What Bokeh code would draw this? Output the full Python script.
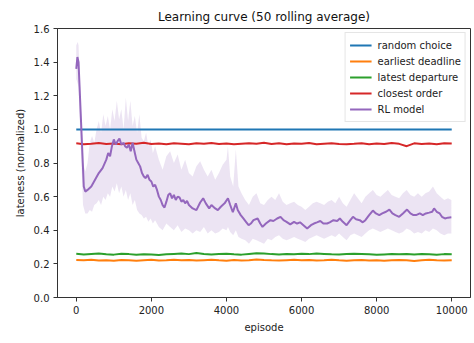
from bokeh.plotting import figure
from bokeh.embed import file_html
from bokeh.resources import INLINE
from bokeh.models import Range1d, FixedTicker, PrintfTickFormatter, Legend, LegendItem

FONT = "DejaVu Sans"

# ---------------- data ----------------
baseline_episodes = list(range(0, 10001, 200))
random_choice = [1.0] * len(baseline_episodes)
closest_order = [0.918, 0.912, 0.915, 0.919, 0.913, 0.916, 0.911, 0.917, 0.914, 0.920,
                 0.913, 0.916, 0.912, 0.918, 0.915, 0.911, 0.917, 0.914, 0.919, 0.913,
                 0.916, 0.912, 0.915, 0.918, 0.914, 0.920, 0.913, 0.917, 0.911, 0.916,
                 0.914, 0.919, 0.912, 0.915, 0.917, 0.913, 0.912, 0.914, 0.918, 0.912,
                 0.916, 0.913, 0.919, 0.914, 0.900, 0.917, 0.913, 0.916, 0.912, 0.918, 0.916]
latest_departure = [0.260, 0.256, 0.259, 0.262, 0.257, 0.255, 0.260, 0.258, 0.254, 0.257,
                    0.256, 0.253, 0.257, 0.259, 0.261, 0.258, 0.264, 0.259, 0.256, 0.258,
                    0.260, 0.257, 0.255, 0.259, 0.263, 0.261, 0.258, 0.256, 0.259, 0.257,
                    0.260, 0.258, 0.261, 0.259, 0.257, 0.256, 0.258, 0.260, 0.259, 0.257,
                    0.254, 0.256, 0.258, 0.257, 0.259, 0.256, 0.258, 0.257, 0.255, 0.258, 0.257]
earliest_deadline = [0.223, 0.221, 0.224, 0.220, 0.222, 0.218, 0.223, 0.221, 0.219, 0.222,
                     0.224, 0.220, 0.222, 0.225, 0.221, 0.223, 0.220, 0.222, 0.224, 0.221,
                     0.219, 0.223, 0.220, 0.222, 0.226, 0.223, 0.221, 0.220, 0.222, 0.224,
                     0.221, 0.223, 0.220, 0.222, 0.225, 0.221, 0.219, 0.222, 0.223, 0.220,
                     0.222, 0.218, 0.221, 0.223, 0.222, 0.217, 0.222, 0.224, 0.221, 0.220, 0.222]

rl_episodes = [0, 30, 60, 200, 240, 300, 400, 500, 600, 700, 800, 850, 900, 950, 1000, 1050,
               1100, 1150, 1200, 1260, 1300, 1350, 1400, 1450, 1500, 1560, 1600, 1650, 1700,
               1750, 1800, 1850, 1900, 1950, 2000, 2050, 2100, 2150, 2200, 2250, 2300, 2350,
               2400, 2450, 2500, 2550, 2600, 2650, 2700, 2750, 2800, 2850, 2900, 2950, 3000,
               3100, 3200, 3300, 3380, 3450, 3540, 3600, 3700, 3770, 3850, 3950, 4040, 4100,
               4170, 4250, 4300, 4380, 4450, 4520, 4590, 4650, 4720, 4830, 4900, 4960, 5050,
               5170, 5250, 5350, 5440, 5520, 5600, 5700, 5800, 5880, 5960, 6050, 6150, 6250,
               6330, 6410, 6500, 6580, 6680, 6750, 6850, 6950, 7020, 7100, 7200, 7300, 7370,
               7450, 7550, 7630, 7700, 7800, 7900, 7980, 8070, 8150, 8250, 8340, 8420, 8500,
               8600, 8700, 8810, 8900, 8980, 9050, 9150, 9230, 9310, 9400, 9480, 9530, 9600,
               9680, 9740, 9820, 9900, 9990]
rl_model = [1.36, 1.43, 1.40, 0.66, 0.63, 0.64, 0.66, 0.70, 0.74, 0.77, 0.82, 0.86, 0.84, 0.90,
            0.94, 0.91, 0.93, 0.945, 0.91, 0.92, 0.90, 0.89, 0.91, 0.87, 0.92, 0.86, 0.82,
            0.80, 0.78, 0.74, 0.72, 0.71, 0.73, 0.70, 0.69, 0.66, 0.67, 0.64, 0.60, 0.58, 0.55,
            0.535, 0.57, 0.61, 0.62, 0.59, 0.61, 0.58, 0.60, 0.595, 0.57, 0.58, 0.56, 0.575,
            0.55, 0.53, 0.52, 0.565, 0.59, 0.56, 0.53, 0.55, 0.53, 0.52, 0.54, 0.56, 0.59, 0.55,
            0.507, 0.56, 0.52, 0.49, 0.47, 0.45, 0.43, 0.44, 0.46, 0.47, 0.44, 0.42, 0.44, 0.46,
            0.455, 0.47, 0.48, 0.46, 0.45, 0.435, 0.45, 0.44, 0.447, 0.43, 0.41, 0.43, 0.44,
            0.447, 0.455, 0.44, 0.44, 0.447, 0.46, 0.455, 0.47, 0.45, 0.43, 0.46, 0.48, 0.465,
            0.46, 0.447, 0.46, 0.49, 0.517, 0.50, 0.49, 0.50, 0.51, 0.523, 0.50, 0.49, 0.48,
            0.50, 0.523, 0.50, 0.49, 0.49, 0.50, 0.49, 0.50, 0.505, 0.51, 0.53, 0.51, 0.50,
            0.48, 0.47, 0.475, 0.477]

band_episodes = [0, 40, 60, 180, 240, 300, 360, 420, 480, 540, 600, 660, 720, 780, 840, 900,
                 960, 1020, 1080, 1140, 1200, 1260, 1320, 1380, 1440, 1500, 1560, 1620, 1680,
                 1740, 1800, 1860, 1920, 1980, 2040, 2100, 2200, 2300, 2400, 2500, 2600, 2700,
                 2800, 2900, 3000, 3100, 3200, 3300, 3400, 3500, 3600, 3700, 3800, 3900, 4000,
                 4040, 4100, 4180, 4250, 4320, 4400, 4500, 4600, 4700, 4800, 4900, 5000, 5100,
                 5200, 5300, 5400, 5500, 5600, 5700, 5800, 5900, 6000, 6100, 6200, 6300, 6400,
                 6500, 6600, 6700, 6800, 6900, 7000, 7100, 7200, 7300, 7400, 7500, 7600, 7700,
                 7800, 7900, 8000, 8100, 8200, 8300, 8400, 8500, 8600, 8700, 8800, 8900, 9000,
                 9100, 9200, 9300, 9400, 9500, 9600, 9700, 9800, 9900, 9990]
rl_band_low = [1.30, 1.27, 1.25, 0.55, 0.50, 0.50, 0.52, 0.51, 0.55, 0.56, 0.58, 0.55, 0.60,
               0.58, 0.62, 0.60, 0.66, 0.63, 0.68, 0.62, 0.66, 0.60, 0.64, 0.58, 0.62, 0.55,
               0.58, 0.52, 0.50, 0.49, 0.47, 0.48, 0.45, 0.47, 0.44, 0.46, 0.42, 0.40, 0.44,
               0.42, 0.40, 0.43, 0.39, 0.41, 0.40, 0.38, 0.40, 0.39, 0.42, 0.38, 0.40, 0.38,
               0.39, 0.41, 0.40, 0.42, 0.39, 0.37, 0.40, 0.36, 0.35, 0.34, 0.32, 0.35, 0.34,
               0.33, 0.32, 0.35, 0.34, 0.36, 0.37, 0.35, 0.34, 0.35, 0.36, 0.35, 0.34, 0.33,
               0.35, 0.36, 0.37, 0.36, 0.35, 0.36, 0.37, 0.36, 0.38, 0.36, 0.34, 0.37, 0.38,
               0.37, 0.36, 0.38, 0.40, 0.41, 0.40, 0.39, 0.40, 0.41, 0.40, 0.39, 0.38, 0.39,
               0.41, 0.40, 0.38, 0.39, 0.38, 0.40, 0.39, 0.41, 0.40, 0.38, 0.37, 0.38, 0.38]
rl_band_high = [1.50, 1.52, 1.50, 0.80, 0.75, 0.80, 0.92, 0.96, 0.92, 1.00, 1.05, 0.98, 1.09,
                1.02, 1.08, 1.00, 1.12, 1.05, 1.17, 1.06, 1.12, 1.00, 1.19, 1.05, 1.17, 1.02,
                1.08, 0.98, 1.09, 0.95, 0.93, 0.98, 0.90, 0.94, 0.86, 0.90, 0.82, 0.76, 0.84,
                0.87, 0.80, 0.85, 0.76, 0.82, 0.74, 0.72, 0.78, 0.81, 0.76, 0.72, 0.76, 0.70,
                0.74, 0.79, 0.82, 0.90, 0.72, 0.66, 0.88, 0.66, 0.62, 0.58, 0.55, 0.60, 0.62,
                0.56, 0.55, 0.58, 0.60, 0.58, 0.62, 0.57, 0.55, 0.56, 0.57, 0.55, 0.54, 0.52,
                0.54, 0.56, 0.57, 0.56, 0.55, 0.57, 0.58, 0.56, 0.60, 0.56, 0.54, 0.58, 0.62,
                0.59, 0.56, 0.60, 0.62, 0.64, 0.61, 0.60, 0.62, 0.64, 0.61, 0.60, 0.59, 0.62,
                0.64, 0.61, 0.60, 0.62, 0.60, 0.62, 0.63, 0.66, 0.62, 0.60, 0.58, 0.59, 0.58]

x_ticks = [0, 2000, 4000, 6000, 8000, 10000]
y_ticks = [0.0, 0.2, 0.4, 0.6, 0.8, 1.0, 1.2, 1.4, 1.6]

labels = ["random choice", "earliest deadline", "latest departure", "closest order", "RL model"]
colors = ["#1f77b4", "#ff7f0e", "#2ca02c", "#d62728", "#9467bd"]

# ---------------- figure ----------------
p = figure(width=474, height=343, output_backend="svg", toolbar_location=None,
           x_range=Range1d(-500, 10500), y_range=Range1d(0, 1.6),
           min_border_left=57, min_border_right=4, min_border_top=28, min_border_bottom=46)
p.background_fill_color = "white"
p.border_fill_color = "white"
p.outline_line_color = "#333333"
p.outline_line_width = 1
p.grid.visible = False

p.title.text = "Learning curve (50 rolling average)"
p.title.align = "center"
p.title.text_font = FONT
p.title.text_font_size = "12px"
p.title.text_font_style = "normal"
p.title.text_color = "#111111"

for ax in (p.xaxis[0], p.yaxis[0]):
    ax.axis_line_color = "#333333"
    ax.major_tick_line_color = "#333333"
    ax.major_tick_out = 4
    ax.major_tick_in = 0
    ax.minor_tick_line_color = None
    ax.major_label_text_font = FONT
    ax.major_label_text_font_size = "10px"
    ax.major_label_text_color = "#222222"
    ax.axis_label_text_font = FONT
    ax.axis_label_text_font_size = "10px"
    ax.axis_label_text_font_style = "normal"
    ax.axis_label_text_color = "#222222"
    ax.major_label_standoff = 4

p.xaxis[0].ticker = FixedTicker(ticks=x_ticks)
p.yaxis[0].ticker = FixedTicker(ticks=y_ticks)
p.yaxis[0].formatter = PrintfTickFormatter(format="%.1f")
p.xaxis[0].axis_label = "episode"
p.yaxis[0].axis_label = "lateness (normalized)"
p.xaxis[0].axis_label_standoff = 5
p.yaxis[0].axis_label_standoff = 5

# band for RL model
p.varea(x=band_episodes, y1=rl_band_low, y2=rl_band_high, fill_color=colors[4], fill_alpha=0.18)

r1 = p.line(baseline_episodes, random_choice, line_color=colors[0], line_width=2)
r2 = p.line(baseline_episodes, earliest_deadline, line_color=colors[1], line_width=2)
r3 = p.line(baseline_episodes, latest_departure, line_color=colors[2], line_width=2)
r4 = p.line(baseline_episodes, closest_order, line_color=colors[3], line_width=2)
r5 = p.line(rl_episodes, rl_model, line_color=colors[4], line_width=2)

legend = Legend(items=[LegendItem(label=l, renderers=[r]) for l, r in zip(labels, [r1, r2, r3, r4, r5])],
                location="top_right")
legend.label_text_font = FONT
legend.label_text_font_size = "10px"
legend.label_text_color = "#222222"
legend.label_height = 16
legend.glyph_height = 16
legend.glyph_width = 22
legend.label_standoff = 6
legend.spacing = 0
legend.padding = 4
legend.margin = 4
legend.border_line_color = "#cccccc"
legend.border_line_width = 1
legend.background_fill_alpha = 0.8
p.add_layout(legend)

open("out.html", "w").write(file_html(p, INLINE))
